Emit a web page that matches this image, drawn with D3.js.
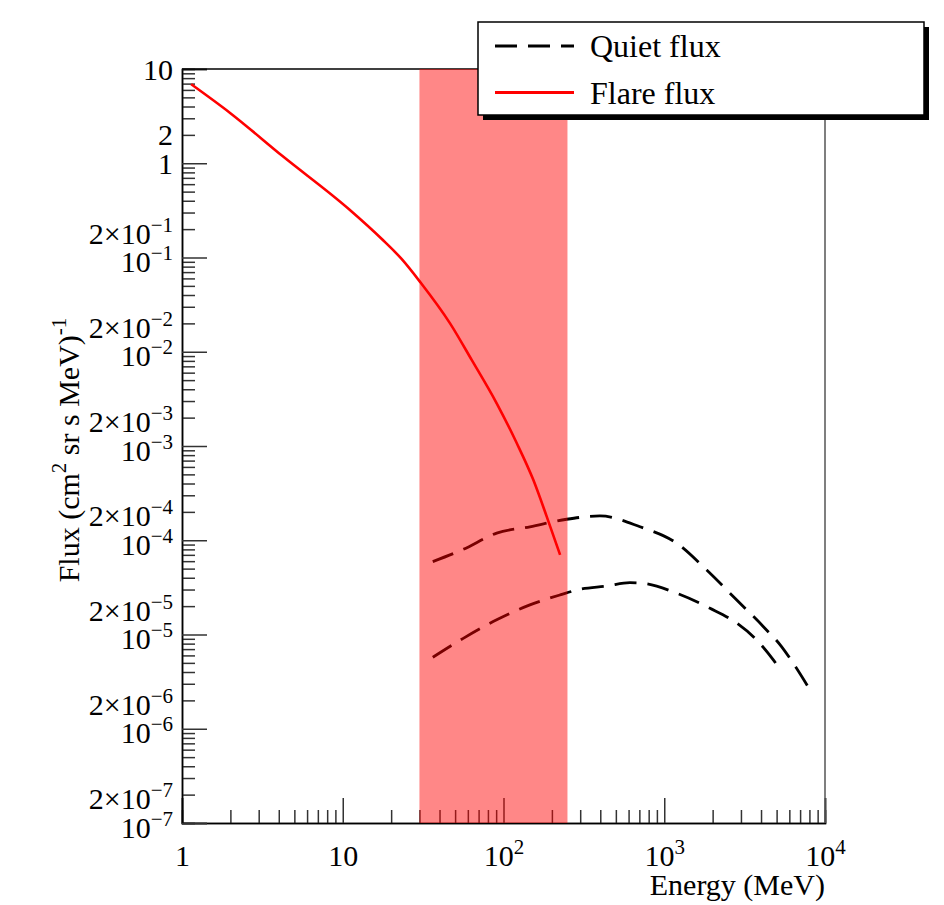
<!DOCTYPE html>
<html lang="en">
<head>
<meta charset="UTF-8">
<title>Quiet and flare flux</title>
<script src="https://d3js.org/d3.v7.min.js"></script>
<style>
  body { margin: 0; background: #fff; }
  text { font-family: "Liberation Serif", "DejaVu Serif", serif; fill: #000; }
  .tick line { stroke: #333; stroke-width: 1.5; }
  .domain { stroke: #000; stroke-width: 1.5; }
</style>
</head>
<body>
<div id="chart"></div>
<script>
// flare spectrum (red, solid)
const flareEnergy = [1.14, 2.0, 4.2, 10.9, 17.5, 23.3, 30.4, 46.5, 63.4, 90.7, 121, 153, 186, 225];
const flareFlux = [6.9, 3.4, 1.2, 0.327, 0.157, 0.096, 0.0546, 0.020, 8.2e-3, 2.84e-3, 1.07e-3, 4.4e-4, 1.77e-4, 7.0e-5];

// quiet spectra (black, dashed) - upper and lower curve
const quietHighEnergy = [36.3, 56.2, 90.7, 146, 247, 398, 707, 1195, 1837, 2826, 4140, 5380, 6350, 8070];
const quietHighFlux = [5.93e-5, 8.0e-5, 1.19e-4, 1.39e-4, 1.67e-4, 1.81e-4, 1.39e-4, 9.3e-5, 4.83e-5, 2.32e-5, 1.21e-5, 7.4e-6, 4.94e-6, 2.58e-6];

const quietLowEnergy = [36.3, 56.2, 90.7, 146, 225, 299, 439, 612, 741, 1195, 1926, 2826, 3755, 4770, 5380];
const quietLowFlux = [5.73e-6, 9.1e-6, 1.43e-5, 2.06e-5, 2.63e-5, 3.02e-5, 3.27e-5, 3.55e-5, 3.49e-5, 2.74e-5, 1.90e-5, 1.32e-5, 8.75e-6, 5.37e-6, 4.03e-6];

// shaded energy band (MeV)
const bandRange = [30, 250];

// axis ranges and tick labels
const xDomain = [1, 1e4];
const yDomain = [1e-7, 10];
const xLabelTicks = [1, 10, 100, 1000, 10000];
const yLabelTicks = [1e-7, 2e-7, 1e-6, 2e-6, 1e-5, 2e-5, 1e-4, 2e-4, 1e-3, 2e-3, 1e-2, 2e-2, 1e-1, 2e-1, 1, 2, 10];

const legendItems = [
    { label: "Quiet flux", color: "#000", dash: "22 11" },
    { label: "Flare flux", color: "#ff0000", dash: null }
];

const margin = { top: 69, right: 119, bottom: 82, left: 182 },
      W = 944, H = 905,
      width = W - margin.left - margin.right,
      height = H - margin.top - margin.bottom;

const svg = d3.select("#chart").append("svg")
    .attr("width", W).attr("height", H);

const g = svg.append("g").attr("transform", `translate(${margin.left},${margin.top})`);

const x = d3.scaleLog().domain(xDomain).range([0, width]);
const y = d3.scaleLog().domain(yDomain).range([height, 0]);

// minor ticks 2..9 in every decade
function minorTicks(domain) {
    const out = [];
    for (let e = Math.round(Math.log10(domain[0])); e < Math.round(Math.log10(domain[1])); e++) {
        for (let m = 2; m <= 9; m++) out.push(m * Math.pow(10, e));
    }
    return out;
}

// label as base + exponent
function labelParts(v) {
    const e = Math.floor(Math.log10(v) + 1e-9);
    const m = Math.round(v / Math.pow(10, e));
    if (e === 0) return { base: String(m), sup: null };
    if (e === 1 && m === 1) return { base: "10", sup: null };
    return { base: (m === 1 ? "" : m + "\u00d7") + "10", sup: e < 0 ? "\u2212" + (-e) : String(e) };
}
function writeLabel(sel) {
    sel.each(function(d) {
        const p = labelParts(d);
        const t = d3.select(this).text(null);
        t.append("tspan").text(p.base);
        if (p.sup) t.append("tspan").attr("font-size", 21).attr("dy", -12).text(p.sup);
    });
}

// x axis
g.append("g")
    .attr("transform", `translate(0,${height})`)
    .call(d3.axisBottom(x).tickValues(minorTicks(xDomain)).tickSize(-13).tickFormat(""))
    .call(a => a.selectAll("text").remove());
const xAx = g.append("g")
    .attr("transform", `translate(0,${height})`)
    .call(d3.axisBottom(x).tickValues(xLabelTicks).tickSize(-25));
xAx.selectAll("text")
    .attr("font-size", 30).attr("font-family", "Liberation Serif, serif")
    .attr("y", 43).attr("dy", null)
    .call(writeLabel);

// y axis
g.append("g")
    .call(d3.axisLeft(y).tickValues(minorTicks(yDomain)).tickSize(-13).tickFormat(""))
    .call(a => a.selectAll("text").remove());
g.append("g")
    .call(d3.axisLeft(y).tickValues(yLabelTicks.filter(v => labelParts(v).base.indexOf("2") !== 0)).tickSize(-25).tickFormat(""))
    .call(a => a.selectAll("text").remove());
const yAx = g.append("g")
    .call(d3.axisLeft(y).tickValues(yLabelTicks).tickSize(0));
yAx.select(".domain").remove();
yAx.selectAll("text")
    .attr("font-size", 30).attr("font-family", "Liberation Serif, serif")
    .attr("x", -9).attr("dy", null)
    .attr("y", d => labelParts(d).sup ? 14 : 10)
    .call(writeLabel);

// frame top and right
g.append("line").attr("x1", 0).attr("x2", width).attr("y1", 0).attr("y2", 0)
    .attr("stroke", "#000").attr("stroke-width", 1.5);
g.append("line").attr("x1", width).attr("x2", width).attr("y1", 0).attr("y2", height)
    .attr("stroke", "#555").attr("stroke-width", 1.5);

// curves
const line = d3.line()
    .x(d => x(d[0]))
    .y(d => y(d[1]))
    .curve(d3.curveMonotoneX);

g.append("path")
    .datum(quietHighEnergy.map((e, i) => [e, quietHighFlux[i]]))
    .attr("fill", "none").attr("stroke", "#000").attr("stroke-width", 2.8)
    .attr("stroke-dasharray", "22 11")
    .attr("d", line);
g.append("path")
    .datum(quietLowEnergy.map((e, i) => [e, quietLowFlux[i]]))
    .attr("fill", "none").attr("stroke", "#000").attr("stroke-width", 2.8)
    .attr("stroke-dasharray", "22 11")
    .attr("d", line);
g.append("path")
    .datum(flareEnergy.map((e, i) => [e, flareFlux[i]]))
    .attr("fill", "none").attr("stroke", "#ff0000").attr("stroke-width", 2.6)
    .attr("d", line);

// shaded band (drawn over the curves, half transparent red)
g.append("rect")
    .attr("x", x(bandRange[0]))
    .attr("y", 0)
    .attr("width", x(bandRange[1]) - x(bandRange[0]))
    .attr("height", height)
    .attr("fill", "#ff0000")
    .attr("fill-opacity", 0.47);

// axis titles
g.append("text")
    .attr("text-anchor", "end")
    .attr("x", width).attr("y", height + 72)
    .attr("font-size", 30)
    .text("Energy (MeV)");

const yt = g.append("text")
    .attr("text-anchor", "middle")
    .attr("transform", `translate(-103,${381}) rotate(-90)`)
    .attr("font-size", 30);
yt.append("tspan").text("Flux (cm");
yt.append("tspan").attr("font-size", 21).attr("dy", -13).text("2");
yt.append("tspan").attr("dy", 13).text(" sr s MeV)");
yt.append("tspan").attr("font-size", 21).attr("dy", -13).text("-1");

// legend
const lg = svg.append("g").attr("transform", "translate(478,22)");
lg.append("rect").attr("x", 5).attr("y", 5).attr("width", 446).attr("height", 93).attr("fill", "#000");
lg.append("rect").attr("width", 446).attr("height", 93)
    .attr("fill", "#fff").attr("stroke", "#000").attr("stroke-width", 1.5);
legendItems.forEach((it, i) => {
    const cy = 24 + i * 46.5;
    lg.append("line")
        .attr("x1", 17).attr("x2", 96).attr("y1", cy).attr("y2", cy)
        .attr("stroke", it.color).attr("stroke-width", 2.8)
        .attr("stroke-dasharray", it.dash);
    lg.append("text")
        .attr("x", 112).attr("y", cy + 11)
        .attr("font-size", 32)
        .text(it.label);
});
</script>
</body>
</html>
